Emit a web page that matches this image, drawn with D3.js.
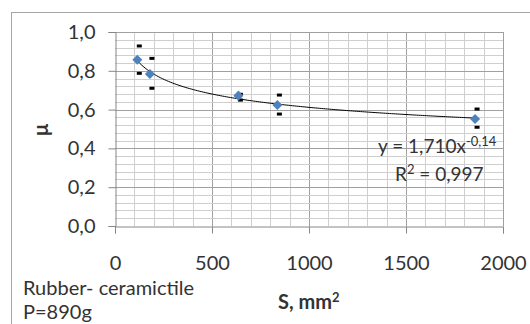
<!DOCTYPE html>
<html>
<head>
<meta charset="utf-8">
<script src="https://cdn.jsdelivr.net/npm/d3@7"></script>
<style>
  body { margin: 0; background: #fff; }
  text { font-family: Lato, "Open Sans", sans-serif; fill: #333; }
</style>
</head>
<body>
<div class="chart"></div>
<script>
  // measured points (S in mm2, friction coefficient mu)
  const sVals = [115, 180, 636, 837, 1856];
  const muVals = [0.857, 0.784, 0.672, 0.624, 0.552];
  const errUpper = [0.928, 0.864, 0.679, 0.675, 0.603];
  const errLower = [0.787, 0.710, 0.649, 0.577, 0.509];

  const xTicks = [0, 500, 1000, 1500, 2000];
  const yTicks = [0, 0.2, 0.4, 0.6, 0.8, 1.0];

  const width = 530;
  const height = 324;

  const svg = d3.select('.chart')
    .append("svg")
    .attr("width", width)
    .attr("height", height);

  // chart area border
  svg.append("rect")
    .attr("x", 11.5)
    .attr("y", 12.5)
    .attr("width", 540)
    .attr("height", 340)
    .attr("fill", "none")
    .attr("stroke", "#a6a6a6");

  const x = d3.scaleLinear().domain([0, 2000]).range([115, 503]);
  const y = d3.scaleLinear().domain([0, 1]).range([226, 32]);

  const comma = d3.formatLocale({decimal: ",", thousands: "", grouping: [3], currency: ["", ""]});
  const fmt1 = comma.format(".1f");

  // grid, every 100 on x and 0.04 on y, darker at the labelled ticks
  svg.selectAll(".vgrid")
    .data(d3.range(100, 2001, 100))
    .enter()
    .append("line")
    .attr("x1", d => Math.round(x(d)) + 0.5)
    .attr("x2", d => Math.round(x(d)) + 0.5)
    .attr("y1", y(0))
    .attr("y2", y(1))
    .attr("stroke", d => d % 500 == 0 ? "#a0a0a0" : "#cfcfcf");

  svg.selectAll(".hgrid")
    .data(d3.range(1, 26))
    .enter()
    .append("line")
    .attr("y1", d => Math.round(y(d * 0.04)) + 0.5)
    .attr("y2", d => Math.round(y(d * 0.04)) + 0.5)
    .attr("x1", x(0))
    .attr("x2", x(2000))
    .attr("stroke", d => d % 5 == 0 ? "#a0a0a0" : "#cfcfcf");

  // axes
  const yAxis = svg.append("g")
    .attr("transform", "translate(115.5,0)")
    .call(d3.axisLeft(y).tickValues(yTicks).tickFormat(fmt1).tickSize(7).tickPadding(13));

  const xAxis = svg.append("g")
    .attr("transform", "translate(0,226.5)")
    .call(d3.axisBottom(x).tickValues(xTicks).tickFormat(d3.format("d")).tickSize(7).tickPadding(22));

  [yAxis, xAxis].forEach(a => {
    a.select(".domain").attr("stroke", "#868686");
    a.selectAll(".tick line").attr("stroke", "#868686");
    a.selectAll(".tick text")
      .attr("font-size", "20px")
      .attr("font-family", "Lato, sans-serif")
      .attr("fill", "#333");
  });

  // power trendline fitted to the points (least squares on logs)
  const lx = sVals.map(Math.log);
  const ly = muVals.map(Math.log);
  const mx = d3.mean(lx);
  const my = d3.mean(ly);
  const b = d3.sum(lx, (v, i) => (v - mx) * (ly[i] - my)) / d3.sum(lx, v => (v - mx) * (v - mx));
  const a = Math.exp(my - b * mx);
  const trendX = d3.range(sVals[0], sVals[sVals.length - 1] + 1, 10);

  svg.append("path")
    .datum(trendX)
    .attr("fill", "none")
    .attr("stroke", "#000")
    .attr("stroke-width", 1)
    .attr("d", d3.line().x(d => x(d)).y(d => y(a * Math.pow(d, b))));

  // error bar caps
  const caps = sVals.map((s, i) => [s, errUpper[i]]).concat(sVals.map((s, i) => [s, errLower[i]]));
  svg.selectAll(".cap")
    .data(caps)
    .enter()
    .append("rect")
    .attr("x", d => x(d[0]) - 0.5)
    .attr("y", d => y(d[1]) - 1.5)
    .attr("width", 5)
    .attr("height", 3)
    .attr("fill", "#000");

  // markers
  svg.selectAll(".pt")
    .data(sVals)
    .enter()
    .append("path")
    .attr("d", d3.symbol().type(d3.symbolDiamond2).size(64))
    .attr("transform", (d, i) => "translate(" + x(d) + "," + y(muVals[i]) + ")")
    .attr("fill", "#4f81bd");

  // equation and R2
  const eq = svg.append("text")
    .attr("x", 378)
    .attr("y", 153)
    .attr("font-size", "19px");
  eq.append("tspan").text("y = 1,710x");
  eq.append("tspan").attr("dy", -7).attr("font-size", "13px").text("-0,14");

  const r2 = svg.append("text")
    .attr("x", 395)
    .attr("y", 181)
    .attr("font-size", "19px");
  r2.append("tspan").text("R");
  r2.append("tspan").attr("dy", -7).attr("font-size", "13px").text("2");
  r2.append("tspan").attr("dy", 7).text(" = 0,997");

  // axis titles
  svg.append("text")
    .attr("transform", "translate(48,130) rotate(-90)")
    .attr("text-anchor", "middle")
    .attr("font-size", "20px")
    .attr("font-weight", "bold")
    .text("μ");

  const st = svg.append("text")
    .attr("x", 278)
    .attr("y", 309)
    .attr("font-size", "20px")
    .attr("font-weight", "bold");
  st.append("tspan").text("S, mm");
  st.append("tspan").attr("dy", -7).attr("font-size", "13px").text("2");

  svg.append("text")
    .attr("x", 23)
    .attr("y", 295)
    .attr("font-size", "20px")
    .text("Rubber- ceramictile");

  svg.append("text")
    .attr("x", 23)
    .attr("y", 319)
    .attr("font-size", "20px")
    .text("P=890g");
</script>
</body>
</html>
